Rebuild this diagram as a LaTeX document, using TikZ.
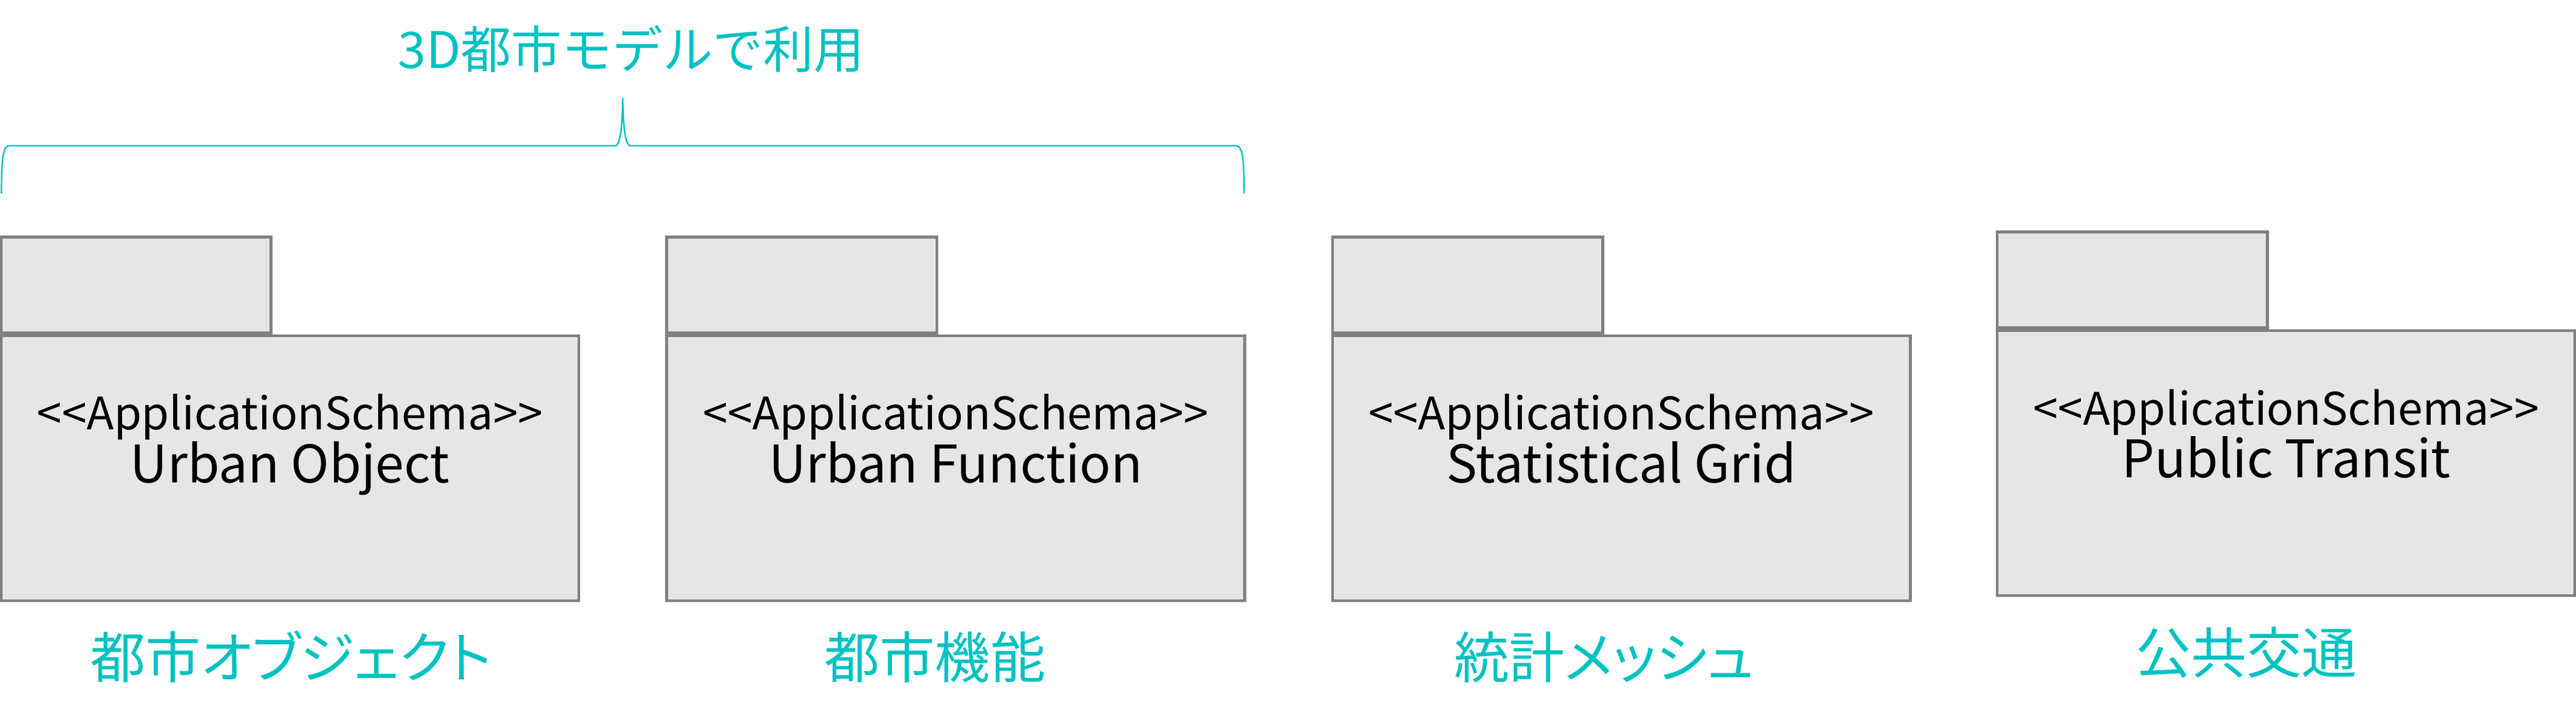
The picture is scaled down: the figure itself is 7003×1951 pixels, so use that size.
\documentclass[tikz,border=0pt]{standalone}
\usepackage{fontspec}
\setmainfont{Noto Sans CJK JP}[Ligatures=TeXOff]
\newfontfamily\labelfont{Noto Sans CJK JP}[RawFeature=+palt]
\definecolor{pkgline}{HTML}{808080}
\definecolor{pkgfill}{HTML}{E6E6E6}
\definecolor{accent}{HTML}{00C2C2}
\tikzset{
  pkgbody/.style={draw=pkgline, fill=pkgfill, line width=2.2pt, minimum width=15.70cm, minimum height=7.19cm, inner sep=0pt},
  pkgtab/.style={draw=pkgline, fill=pkgfill, line width=2.2pt, minimum width=7.34cm, minimum height=2.61cm, inner sep=0pt, anchor=south west},
  stereo/.style={anchor=base, inner sep=0pt, font=\fontsize{34.6pt}{37pt}\selectfont},
  pkgname/.style={anchor=base, inner sep=0pt, font=\fontsize{40pt}{44pt}\selectfont},
  pkglabel/.style={anchor=base, inner sep=0pt, text=accent, font=\labelfont\fontsize{42.7pt}{46pt}\selectfont},
  brace/.style={draw=accent, line width=1.15pt}
}
\begin{document}
\begin{tikzpicture}[x=0.01cm, y=-0.01cm]
\useasboundingbox (0,0) rectangle (7003,1951);
            % title and brace
            \node[pkglabel, font=\fontsize{39pt}{42pt}\selectfont] (title) at (1716,186) {3D都市モデルで利用};
            \draw[brace] (4,526) .. controls (4,430) and (8,396) .. (26,396) -- (1672,396)
                .. controls (1688,396) and (1692,330) .. (1693,266)
                .. controls (1694,330) and (1698,396) .. (1714,396) -- (3360,396)
                .. controls (3378,396) and (3382,430) .. (3382,526);
            % Urban Object
            \node[pkgbody] (uobody) at (788,1272.5) {};
            \node[pkgtab] (uotab) at (uobody.north west) {};
            \node[stereo] (uost) at (788,1168) {<<ApplicationSchema>>};
            \node[pkgname] (uoname) at (788,1311) {Urban Object};
            \node[pkglabel] (uolabel) at (791,1842) {都市オブジェクト};
            % Urban Function
            \node[pkgbody] (ufbody) at (2598,1272.5) {};
            \node[pkgtab] (uftab) at (ufbody.north west) {};
            \node[stereo] (ufst) at (2598,1168) {<<ApplicationSchema>>};
            \node[pkgname] (ufname) at (2598,1311) {Urban Function};
            \node[pkglabel] (uflabel) at (2542,1842) {都市機能};
            % Statistical Grid
            \node[pkgbody] (sgbody) at (4408,1272.5) {};
            \node[pkgtab] (sgtab) at (sgbody.north west) {};
            \node[stereo] (sgst) at (4408,1168) {<<ApplicationSchema>>};
            \node[pkgname] (sgname) at (4408,1311) {Statistical Grid};
            \node[pkglabel] (sglabel) at (4361,1842) {統計メッシュ};
            % Public Transit
            \node[pkgbody] (ptbody) at (6215,1258.5) {};
            \node[pkgtab] (pttab) at (ptbody.north west) {};
            \node[stereo] (ptst) at (6215,1155) {<<ApplicationSchema>>};
            \node[pkgname] (ptname) at (6215,1297) {Public Transit};
            \node[pkglabel] (ptlabel) at (6107,1830) {公共交通};
        \end{tikzpicture}
\end{document}
